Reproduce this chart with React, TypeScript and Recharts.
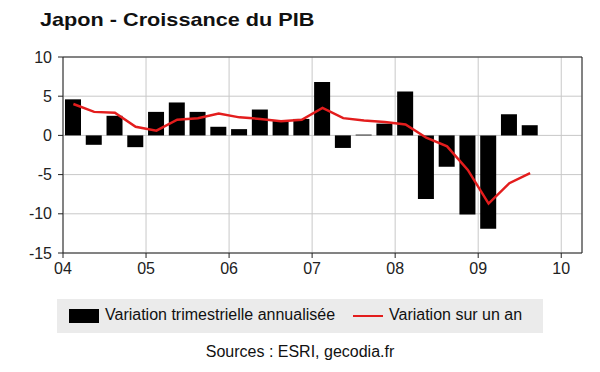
import {
  Bar,
  CartesianGrid,
  ComposedChart,
  Line,
  ReferenceLine,
  XAxis,
  YAxis,
} from "recharts";

// trimestres 2004T1 .. 2009T3
const quarters = [
  "2004T1", "2004T2", "2004T3", "2004T4",
  "2005T1", "2005T2", "2005T3", "2005T4",
  "2006T1", "2006T2", "2006T3", "2006T4",
  "2007T1", "2007T2", "2007T3", "2007T4",
  "2008T1", "2008T2", "2008T3", "2008T4",
  "2009T1", "2009T2", "2009T3",
];

// variation trimestrielle annualisée (%)
const qoqAnnualized = [
  4.6, -1.2, 2.5, -1.5,
  3.0, 4.2, 3.0, 1.1,
  0.8, 3.3, 1.9, 2.1,
  6.8, -1.6, 0.1, 1.5,
  5.6, -8.1, -4.0, -10.1,
  -11.9, 2.7, 1.3,
];

// variation sur un an (%)
const yoy = [
  4.0, 3.0, 2.9, 1.1,
  0.6, 2.0, 2.2, 2.8,
  2.3, 2.1, 1.8, 2.0,
  3.5, 2.2, 1.9, 1.7,
  1.4, -0.3, -1.4, -4.4,
  -8.7, -6.1, -4.8,
];

const yearTicks = [2004, 2005, 2006, 2007, 2008, 2009, 2010];
const yTicks = [-15, -10, -5, 0, 5, 10];

const FONT = "'Liberation Sans', Arial, sans-serif";
const RED = "#e31d1d";

const data = quarters.map((q, i) => {
  const year = Number(q.slice(0, 4));
  const qn = Number(q.slice(5));
  return {
    t: year + (qn - 0.5) / 4,
    qoq: qoqAnnualized[i],
    yoy: yoy[i],
  };
});

function LegendBox() {
  return (
    <div
      style={{
        position: "absolute",
        left: 57,
        top: 299,
        width: 486,
        height: 34,
        background: "#ebebeb",
        fontFamily: FONT,
        fontSize: 16,
        color: "#111",
      }}
    >
      <div style={{ position: "absolute", left: 12, top: 10, width: 30, height: 14, background: "#000" }} />
      <div style={{ position: "absolute", left: 48, top: 7 }}>
        Variation trimestrielle annualisée
      </div>
      <div style={{ position: "absolute", left: 296, top: 16, width: 30, height: 2, background: RED }} />
      <div style={{ position: "absolute", left: 332, top: 7 }}>Variation sur un an</div>
    </div>
  );
}

export default function App() {
  return (
    <div
      style={{
        position: "absolute",
        left: 0,
        top: 0,
        width: 600,
        height: 372,
        background: "#fff",
        fontFamily: FONT,
      }}
    >
      <div
        style={{
          position: "absolute",
          left: 40,
          top: 9,
          fontSize: 19,
          fontWeight: "bold",
          color: "#111",
          whiteSpace: "nowrap",
          transform: "scaleX(1.14)",
          transformOrigin: "left top",
        }}
      >
        Japon - Croissance du PIB
      </div>
      <ComposedChart
        width={600}
        height={372}
        data={data}
        margin={{ top: 57, right: 18, bottom: 89, left: 0 }}
      >
        <CartesianGrid stroke="#c8c8c8" strokeWidth={1} />
        <XAxis
          dataKey="t"
          type="number"
          domain={[2004, 2010.25]}
          ticks={yearTicks}
          allowDataOverflow
          tickFormatter={(v: number) => String(v).slice(2)}
          tick={{ fontSize: 16, fill: "#222", fontFamily: FONT }}
          tickSize={5}
          tickMargin={5}
          stroke="#222"
          height={30}
        />
        <YAxis
          type="number"
          domain={[-15, 10]}
          ticks={yTicks}
          tick={{ fontSize: 16, fill: "#222", fontFamily: FONT }}
          tickSize={5}
          tickMargin={6}
          stroke="#222"
          width={63}
        />
        <ReferenceLine y={10} stroke="#222" />
        <ReferenceLine x={2010.25} stroke="#222" />
        <Bar
          dataKey="qoq"
          name="Variation trimestrielle annualisée"
          fill="#000"
          barSize={16}
          isAnimationActive={false}
        />
        <Line
          dataKey="yoy"
          name="Variation sur un an"
          type="linear"
          stroke={RED}
          strokeWidth={2.5}
          dot={false}
          isAnimationActive={false}
        />
      </ComposedChart>
      <LegendBox />
      <div
        style={{
          position: "absolute",
          left: 0,
          width: 600,
          top: 343,
          textAlign: "center",
          fontSize: 16,
          color: "#111",
        }}
      >
        Sources : ESRI, gecodia.fr
      </div>
    </div>
  );
}
